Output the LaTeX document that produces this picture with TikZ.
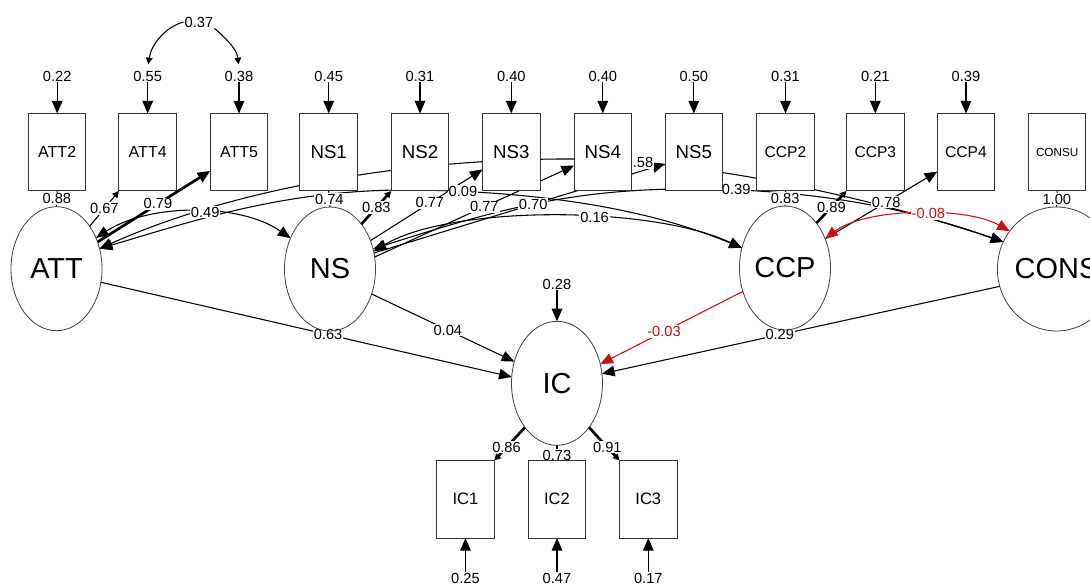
\documentclass[tikz,border=0pt]{standalone}
\usepackage{fontspec}
\setmainfont{Liberation Sans}
\usetikzlibrary{arrows.meta,shapes.geometric}
\pgfdeclarelayer{background}
\pgfdeclarelayer{edges}
\pgfdeclarelayer{labels}
\pgfsetlayers{background,edges,labels,main}
\definecolor{semred}{RGB}{204,16,16}
\begin{document}
\begin{tikzpicture}[x=0.75pt,y=-0.75pt,
  ln/.style={draw=black, line width=0.8pt},
  thk/.style={draw=black, line width=2pt},
  rd/.style={draw=semred, fill=none, line width=0.8pt},
  aB/.style={-{Triangle[length=9.5pt,width=8pt]}},
  aBB/.style={{Triangle[length=9.5pt,width=8pt]}-{Triangle[length=9.5pt,width=8pt]}},
  aS/.style={-{Triangle[length=5pt,width=5pt]}},
  box/.style={draw=black!80, fill=white, line width=0.75pt, minimum width=43.1pt, minimum height=58.1pt, inner sep=0pt, outer sep=0pt},
  fA/.style={font=\fontsize{12}{14}\selectfont},
  fN/.style={font=\fontsize{14}{16}\selectfont},
  fC/.style={font=\fontsize{11.7}{14}\selectfont},
  fU/.style={font=\fontsize{8.8}{10}\selectfont},
  fI/.style={font=\fontsize{12.4}{14}\selectfont},
  lat/.style={ellipse, draw=black!75, line width=0.6pt, minimum width=68.25pt, minimum height=93pt, inner sep=0pt, outer sep=0pt, font=\fontsize{21.7}{24}\selectfont},
  lab/.style={fill=white, inner sep=0.7pt, font=\fontsize{11}{13}\selectfont},
  rlab/.style={lab, text=semred}]
\useasboundingbox (0,0) rectangle (1090,585);
\begin{pgfonlayer}{background}
\fill[white] (0,0) rectangle (1090,585);
\end{pgfonlayer}

% observed variables
\node[box,fA] (ATT2) at (57.2,152.2) {ATT2};
\node[box,fA] (ATT4) at (147.7,152.2) {ATT4};
\node[box,fA] (ATT5) at (239,152.2) {ATT5};
\node[box,fN] (NS1) at (328.7,152.2) {NS1};
\node[box,fN] (NS2) at (420,152.2) {NS2};
\node[box,fN] (NS3) at (511.3,152.2) {NS3};
\node[box,fN] (NS4) at (602.8,152.2) {NS4};
\node[box,fN] (NS5) at (693.8,152.2) {NS5};
\node[box,fC] (CCP2) at (785.5,152.2) {CCP2};
\node[box,fC] (CCP3) at (875.3,152.2) {CCP3};
\node[box,fC] (CCP4) at (966,152.2) {CCP4};
\node[box,fU] (CONSU) at (1057.2,152.2) {CONSU};
\node[box,fI] (IC1) at (465.5,499.3) {IC1};
\node[box,fI] (IC2) at (557,499.3) {IC2};
\node[box,fI] (IC3) at (648.3,499.3) {IC3};

% latent variables
\node[lat] (ATT) at (56.5,268.7) {ATT};
\node[lat] (NS) at (330,269) {NS};
\node[lat] (CCP) at (785,268) {CCP};
\node[lat] (CONS) at (1056.5,269) {CONS};
\node[lat] (IC) at (557,383.3) {IC};

% residual labels
\begin{pgfonlayer}{labels}
\node[lab] (r1) at (57.2,76) {0.22};
\node[lab] (r2) at (147.7,76) {0.55};
\node[lab] (r3) at (239,76) {0.38};
\node[lab] (r4) at (328.7,76) {0.45};
\node[lab] (r5) at (420,76) {0.31};
\node[lab] (r6) at (511.3,76) {0.40};
\node[lab] (r7) at (602.8,76) {0.40};
\node[lab] (r8) at (693.8,76) {0.50};
\node[lab] (r9) at (785.5,76) {0.31};
\node[lab] (r10) at (875.3,76) {0.21};
\node[lab] (r11) at (966,76) {0.39};
\node[lab] (c37) at (199,22) {0.37};
\node[lab] (rIC) at (557,284) {0.28};
\node[lab] (b1) at (465.5,578.5) {0.25};
\node[lab] (b2) at (557,578.5) {0.47};
\node[lab] (b3) at (648.3,578.5) {0.17};
\end{pgfonlayer}

\begin{pgfonlayer}{edges}
% residual arrows
\foreach \r/\b in {r1/ATT2,r2/ATT4,r3/ATT5,r4/NS1,r5/NS2,r6/NS3,r7/NS4,r8/NS5,r9/CCP2,r10/CCP3,r11/CCP4,rIC/IC}
  \draw[ln,aB] (\r) -- (\b);
\foreach \r/\b in {b1/IC1,b2/IC2,b3/IC3}
  \draw[ln,aB] (\r) -- (\b);
\draw[ln,aS,shorten >=4pt] (c37.west) .. controls (165,27) and (151,45) .. (r2.north);
\draw[ln,aS,shorten >=4pt] (c37.south east) .. controls (228,40) and (237,50) .. (r3.north);

% loadings
\draw[ln] (ATT.north) -- (ATT2.south) coordinate[midway] (l088);
\draw[ln,aS] (ATT.52) -- (ATT4.south west) coordinate[midway] (l067);
\draw[thk,aB] (ATT.33) -- (ATT5.213) coordinate[pos=0.536] (l079);
\draw[ln] (NS.north) -- (NS1.south) coordinate[midway] (l074);
\draw[thk,aS] (NS.55) -- (NS2.south west) coordinate[midway] (l083);
\draw[ln,aB] (NS.35) -- (NS3.211) coordinate[pos=0.53] (l077a);
\draw[ln,aB] (NS.15) -- (NS4.205) coordinate[pos=0.55] (l077b);
\draw[ln,aB] (NS.20) -- (NS5.202) coordinate[pos=0.547] (l070);
\draw[ln] (CCP.north) -- (CCP2.south) coordinate[midway] (l083c);
\draw[thk,aS] (CCP.55) -- (CCP3.south west) coordinate[midway] (l089);
\draw[ln,aB] (CCP.36) -- (CCP4.214) coordinate[pos=0.545] (l078);
\draw[ln] (CONS.north) -- (CONSU.south) coordinate[midway] (l100);
\draw[thk,aS] (IC.234) -- (IC1.north east) coordinate[pos=0.6] (l086);
\draw[ln] (IC.south) -- (IC2.north) coordinate[pos=0.65] (l073);
\draw[thk,aS] (IC.-54) -- (IC3.north west) coordinate[pos=0.6] (l091);

% covariances
\draw[ln,aBB] (ATT.38) .. controls (150,203) and (240,203) .. (NS.142) coordinate[pos=0.55] (l049);
\draw[ln,aBB] (ATT.25) .. controls (230,190) and (400,160) .. (560,159)
   .. controls (700,158) and (880,200) .. (CONS.153) coordinate[pos=0.18] (l058);
\draw[ln,aBB] (ATT.25) .. controls (190,222) and (280,191) .. (400,190)
   .. controls (520,190) and (640,205) .. (CCP.155) coordinate[pos=0.175] (l009);
\draw[ln,aBB] (NS.22) .. controls (450,205) and (650,205) .. (CCP.155) coordinate[pos=0.6] (l016);
\draw[ln,aBB] (NS.25) .. controls (480,215) and (560,190) .. (680,189)
   .. controls (800,188) and (900,205) .. (CONS.153) coordinate[pos=0.16] (l039);
\draw[rd,aBB] (CCP.36) .. controls (865,208) and (965,206) .. (CONS.141) coordinate[pos=0.56] (l008);

% regressions
\draw[ln,aB] (ATT.-17) -- (IC.172) coordinate[pos=0.553] (l063);
\draw[ln,aB] (NS.-31) -- (IC.153) coordinate[pos=0.534] (l004);
\draw[rd,aB] (CCP.209) -- (IC.24) coordinate[pos=0.553] (l003);
\draw[ln,aB] (CONS.197) -- (IC.12) coordinate[pos=0.553] (l029);
\end{pgfonlayer}

\begin{pgfonlayer}{labels}
\node[lab] at (l088) {0.88};
\node[lab] at (l067) {0.67};
\node[lab] at (l079) {0.79};
\node[lab] at (l074) {0.74};
\node[lab] at (l083) {0.83};
\node[lab] at (l077a) {0.77};
\node[lab] at (l077b) {0.77};
\node[lab] at (l070) {0.70};
\node[lab] at (l083c) {0.83};
\node[lab] at (l089) {0.89};
\node[lab] at (l078) {0.78};
\node[lab] at (l100) {1.00};
\node[lab] at (l086) {0.86};
\node[lab] at (l073) {0.73};
\node[lab] at (l091) {0.91};
\node[lab] at (l049) {0.49};
\node[lab] at (l058) {0.58};
\node[lab] at (l009) {0.09};
\node[lab] at (l016) {0.16};
\node[lab] at (l039) {0.39};
\node[rlab] at (l008) {-0.08};
\node[lab] at (l063) {0.63};
\node[lab] at (l004) {0.04};
\node[rlab] at (l003) {-0.03};
\node[lab] at (l029) {0.29};
\end{pgfonlayer}
\end{tikzpicture}
\end{document}
